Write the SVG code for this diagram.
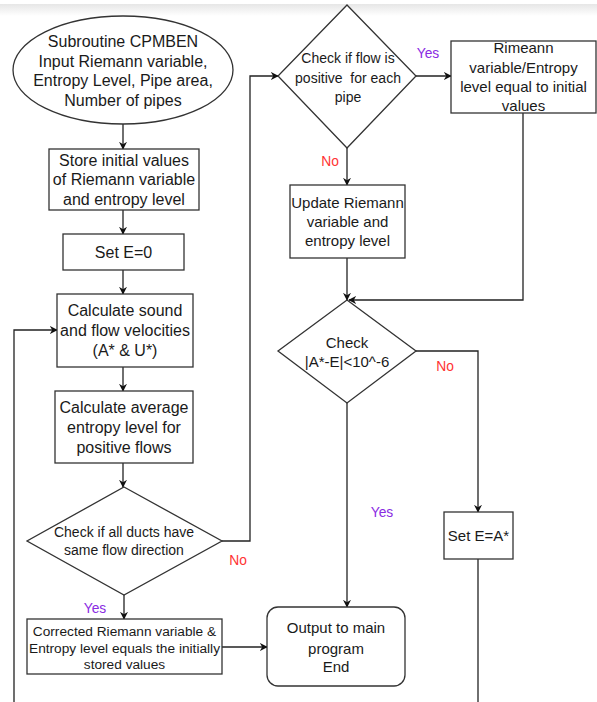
<svg xmlns="http://www.w3.org/2000/svg" width="597" height="702" viewBox="0 0 597 702">
<defs>
<linearGradient id="band" x1="0" y1="0" x2="0" y2="1">
<stop offset="0" stop-color="#e6e6e6"/>
<stop offset="1" stop-color="#ffffff"/>
</linearGradient>
<marker id="arr" viewBox="0 0 10 10" refX="9" refY="5" markerWidth="8" markerHeight="8" markerUnits="userSpaceOnUse" orient="auto">
<path d="M0,0 L10,5 L0,10 L3,5 z" fill="#111"/>
</marker>
<style>
.shape{fill:#fff;stroke:#333;stroke-width:1.3}
.t{font-family:"Liberation Sans",Arial,sans-serif;fill:#1a1a1a;text-anchor:middle}
.t16{font-size:16px}
.t15{font-size:15px}
.t14{font-size:14px}
.t13{font-size:13.7px}
.yes{font-family:"Liberation Sans",Arial,sans-serif;font-size:13.8px;fill:#8a2be2;text-anchor:middle}
.no{font-family:"Liberation Sans",Arial,sans-serif;font-size:13.8px;fill:#ff3333;text-anchor:middle}
.c{fill:none;stroke:#222;stroke-width:1.3}
.ca{fill:none;stroke:#222;stroke-width:1.3;marker-end:url(#arr)}
</style>
</defs>
<rect x="0" y="0" width="597" height="702" fill="#fff"/>
<rect x="0" y="4" width="597" height="12" fill="url(#band)"/>

<g id="connectors">
<path class="ca" d="M123,124 V149"/>
<path class="ca" d="M123,210 V234"/>
<path class="ca" d="M123,270 V294"/>
<path class="ca" d="M123,367 V391"/>
<path class="ca" d="M123,463 V487"/>
<path class="ca" d="M14,702 V330 H57"/>
<path class="ca" d="M222,541 H250 V76 H278"/>
<path class="ca" d="M124,595 V619"/>
<path class="ca" d="M222,647 H267"/>
<path class="ca" d="M416,76 H451"/>
<path class="ca" d="M347,148 V185"/>
<path class="ca" d="M347,258 V300"/>
<path class="ca" d="M523,113 V300 H349"/>
<path class="ca" d="M347,403 V607"/>
<path class="ca" d="M416,351 H478 V512"/>
<path class="c" d="M478,559 V702"/>
<text class="yes" x="428" y="58">Yes</text>
<text class="no" x="330" y="166">No</text>
<text class="no" x="445" y="371">No</text>
<text class="yes" x="382" y="517">Yes</text>
<text class="no" x="238" y="565">No</text>
<text class="yes" x="95" y="613">Yes</text>
</g>

<g id="start">
<ellipse class="shape" cx="123" cy="70" rx="110" ry="54"/>
<text class="t t16" x="123" y="47">Subroutine CPMBEN</text>
<text class="t t16" x="123" y="66.7">Input Riemann variable,</text>
<text class="t t16" x="123" y="86.4">Entropy Level, Pipe area,</text>
<text class="t t16" x="123" y="106">Number of pipes</text>
</g>

<g id="store">
<rect class="shape" x="49" y="149" width="150" height="61"/>
<text class="t t16" x="124" y="166">Store initial values</text>
<text class="t t16" x="124" y="185">of Riemann variable</text>
<text class="t t16" x="124" y="204.5">and entropy level</text>
</g>

<g id="sete0">
<rect class="shape" x="63" y="234" width="121" height="36"/>
<text class="t t16" x="123.5" y="257.5">Set E=0</text>
</g>

<g id="calcsound">
<rect class="shape" x="57" y="294" width="136" height="73"/>
<text class="t t16" x="125" y="316">Calculate sound</text>
<text class="t t16" x="125" y="336">and flow velocities</text>
<text class="t t16" x="125" y="355.5">(A* &amp; U*)</text>
</g>

<g id="calcavg">
<rect class="shape" x="55" y="391" width="138" height="72"/>
<text class="t t16" x="124" y="413">Calculate average</text>
<text class="t t16" x="124" y="433">entropy level for</text>
<text class="t t16" x="124" y="453">positive flows</text>
</g>

<g id="checkducts">
<polygon class="shape" points="124,487 222,541 124,595 27,541"/>
<text class="t t14" x="124" y="537">Check if all ducts have</text>
<text class="t t14" x="124" y="555">same flow direction</text>
</g>

<g id="corrected">
<rect class="shape" x="27" y="619" width="195" height="55"/>
<text class="t t13" x="124.5" y="636">Corrected Riemann variable &amp;</text>
<text class="t t13" x="124.5" y="652.5">Entropy level equals the initially</text>
<text class="t t13" x="124.5" y="669">stored values</text>
</g>

<g id="checkflow">
<polygon class="shape" points="347,5 416,76 347,148 278,76"/>
<text class="t t14" x="348" y="63">Check if flow is</text>
<text class="t t14" x="348" y="82.5" xml:space="preserve">positive  for each</text>
<text class="t t14" x="348" y="102">pipe</text>
</g>

<g id="rimeann">
<rect class="shape" x="451" y="41" width="145" height="72"/>
<text class="t t15" x="523.5" y="53">Rimeann</text>
<text class="t t15" x="523.5" y="72.5">variable/Entropy</text>
<text class="t t15" x="523.5" y="92">level equal to initial</text>
<text class="t t15" x="523.5" y="111">values</text>
</g>

<g id="update">
<rect class="shape" x="290" y="185" width="115" height="73"/>
<text class="t t15" x="347.5" y="208">Update Riemann</text>
<text class="t t15" x="347.5" y="227">variable and</text>
<text class="t t15" x="347.5" y="246">entropy level</text>
</g>

<g id="checkae">
<polygon class="shape" points="347,300 416,351 347,403 278,351"/>
<text class="t t15" x="347" y="348">Check</text>
<text class="t t15" x="347" y="367">|A*-E|&lt;10^-6</text>
</g>

<g id="seteastar">
<rect class="shape" x="444" y="512" width="69" height="47"/>
<text class="t t15" x="478.5" y="541">Set E=A*</text>
</g>

<g id="output">
<rect class="shape" x="267" y="607" width="138" height="79" rx="11" ry="11"/>
<text class="t t15" x="336" y="633">Output to main</text>
<text class="t t15" x="336" y="653.5">program</text>
<text class="t t15" x="336" y="672">End</text>
</g>
</svg>
